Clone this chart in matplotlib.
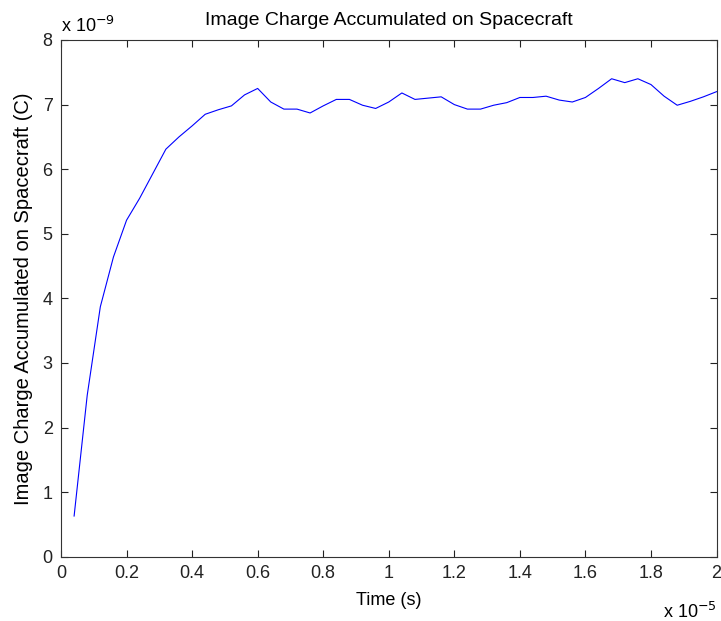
import numpy as np
import matplotlib
matplotlib.use("Agg")
import matplotlib.pyplot as plt

# Time in units of 1e-5 s, charge in units of 1e-9 C
time_scaled = np.round(np.arange(0.04, 2.0001, 0.04), 2)
charge_scaled = [
    0.63, 2.50, 3.87, 4.64, 5.21, 5.55, 5.93, 6.31, 6.50, 6.67,
    6.85, 6.92, 6.98, 7.15, 7.25, 7.04, 6.93, 6.93, 6.87, 6.98,
    7.08, 7.08, 6.99, 6.94, 7.04, 7.18, 7.08, 7.10, 7.12, 7.00,
    6.93, 6.93, 6.99, 7.03, 7.11, 7.11, 7.13, 7.07, 7.04, 7.11,
    7.25, 7.40, 7.34, 7.40, 7.31, 7.13, 6.99, 7.05, 7.12, 7.20,
]
x_ticks = [0, 0.2, 0.4, 0.6, 0.8, 1, 1.2, 1.4, 1.6, 1.8, 2]
x_tick_labels = ["0", "0.2", "0.4", "0.6", "0.8", "1", "1.2", "1.4", "1.6", "1.8", "2"]
y_ticks = [0, 1, 2, 3, 4, 5, 6, 7, 8]

plt.rcParams['font.family'] = ['Liberation Sans', 'DejaVu Sans']

fig = plt.figure(figsize=(7.21, 6.21), dpi=100)
ax = fig.add_axes([0.0846, 0.1035, 0.9092, 0.8321])

ax.plot(time_scaled, charge_scaled, color=(0, 0, 1), linewidth=0.8)

ax.set_xlim(0, 2)
ax.set_ylim(0, 8)
ax.set_xticks(x_ticks)
ax.set_xticklabels(x_tick_labels)
ax.set_yticks(y_ticks)
ax.tick_params(direction='in', top=True, right=True, length=5, width=0.8,
               labelsize=13, pad=6, colors='#222222')
for s in ax.spines.values():
    s.set_linewidth(0.8)
    s.set_color('#333333')

ax.set_xlabel("Time (s)", fontsize=13, labelpad=7)
ax.set_ylabel("Image Charge Accumulated on Spacecraft (C)", fontsize=14.5, labelpad=7)
ax.set_title("Image Charge Accumulated on Spacecraft", fontsize=14, pad=11)

# MATLAB-style exponent labels
ax.text(0.0, 1.008, r"x 10$^{-9}$", transform=ax.transAxes, fontsize=13,
        ha='left', va='bottom')
ax.text(1.0, -0.088, r"x 10$^{-5}$", transform=ax.transAxes, fontsize=13,
        ha='right', va='top')

fig.savefig("out.png", dpi=100)
